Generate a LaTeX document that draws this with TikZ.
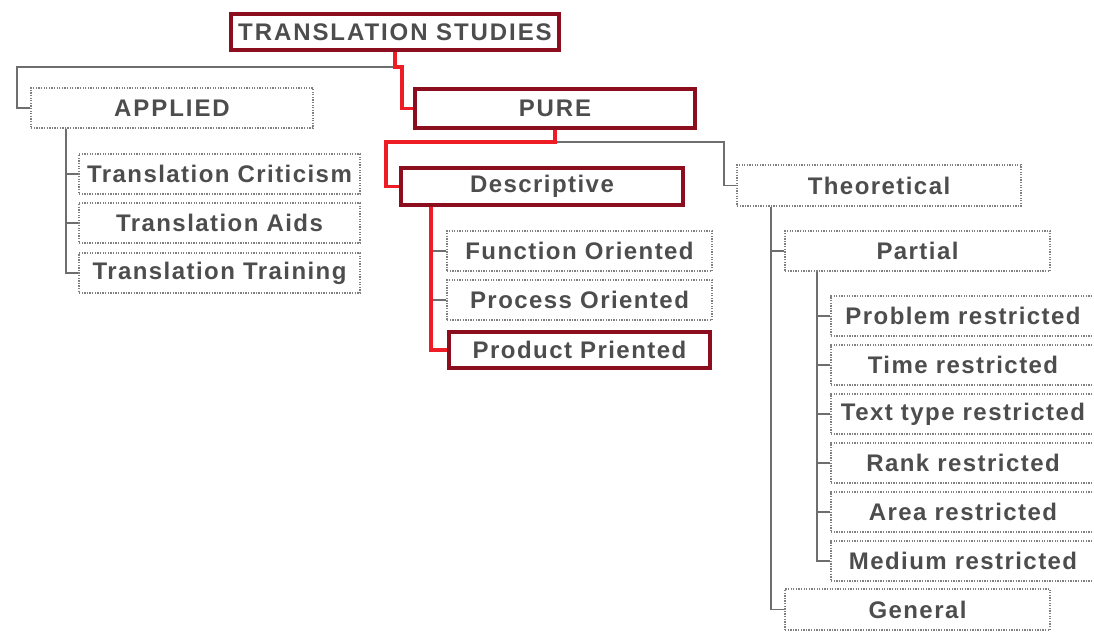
\documentclass[tikz,border=0pt]{standalone}
\usepackage{fontspec}
\usepackage{xcolor}
\newfontfamily\boxfont[LetterSpace=6]{Liberation Sans}
\newfontfamily\capsfont[LetterSpace=8]{Liberation Sans}
\definecolor{darkred}{HTML}{8B0D1E}
\definecolor{redline}{HTML}{EE1C25}
\definecolor{txtgray}{HTML}{4D4D4D}
\definecolor{boxgray}{HTML}{808080}
\definecolor{linegray}{HTML}{6E6E6E}

\begin{document}
\begin{tikzpicture}[x=1pt,y=-1pt,
    box/.style={inner sep=0pt, minimum height=40pt, text=txtgray,
        font=\boxfont\bfseries\fontsize{24}{28}\selectfont},
    capsbox/.style={font=\capsfont\bfseries\fontsize{24}{28}\selectfont},
    gbox/.style={box, draw=boxgray, line width=1.3pt, dash pattern=on 1.3pt off 1.3pt},
    rbox/.style={box, draw=darkred, line width=4pt},
    gline/.style={draw=linegray, line width=1.8pt},
    rline/.style={draw=redline, line width=3.2pt}]
        \useasboundingbox (0,0) rectangle (1094,632);
        \clip (0,0) rectangle (1094,632);

        % root
        \node[rbox, capsbox, minimum width=328pt, minimum height=36pt] (ts) at (395,32) {TRANSLATION STUDIES};

        % first level
        \node[gbox, capsbox, minimum width=282pt] (applied) at (172,108) {APPLIED};
        \node[rbox, capsbox, minimum width=280pt, minimum height=39pt] (pure) at (555,108.5) {PURE};

        % applied branch
        \node[gbox, minimum width=281pt] (criticism) at (219.5,174) {Translation Criticism};
        \node[gbox, minimum width=281pt] (aids) at (219.5,223) {Translation Aids};
        \node[gbox, minimum width=281pt] (training) at (219.5,273) {Translation Training};

        % pure branch
        \node[rbox, minimum width=282pt, minimum height=37pt] (descriptive) at (542,186.5) {Descriptive};
        \node[gbox, minimum width=284pt, minimum height=41pt] (theoretical) at (879,185.5) {Theoretical};

        % descriptive branch
        \node[gbox, minimum width=265pt] (function) at (579.5,251) {Function Oriented};
        \node[gbox, minimum width=265pt] (process) at (579.5,300) {Process Oriented};
        \node[rbox, minimum width=261pt, minimum height=36pt] (product) at (579.5,350) {Product Priented};

        % theoretical branch
        \node[gbox, minimum width=265pt] (partial) at (917.5,251) {Partial};
        \node[gbox, minimum width=265pt, minimum height=41pt] (general) at (917.5,609.5) {General};

        % partial branch
        \node[gbox, minimum width=264pt] (problem) at (963,316) {Problem restricted};
        \node[gbox, minimum width=264pt] (time) at (963,365) {Time restricted};
        \node[gbox, minimum width=264pt] (texttype) at (963,414) {Text type restricted};
        \node[gbox, minimum width=264pt] (rank) at (963,463) {Rank restricted};
        \node[gbox, minimum width=264pt] (area) at (963,512) {Area restricted};
        \node[gbox, minimum width=264pt] (medium) at (963,561) {Medium restricted};

        % grey connectors
        \draw[gline] (ts.south) -- ++(0,15) -| ([xshift=-13pt]applied.west) -- (applied.west);
        \draw[gline] (pure.south) -- ++(0,12) -| ([xshift=-12pt]theoretical.west) -- (theoretical.west);
        \draw[gline] ([xshift=36pt]applied.south west) |- (criticism.west);
        \draw[gline] ([xshift=36pt]applied.south west) |- (aids.west);
        \draw[gline] ([xshift=36pt]applied.south west) |- (training.west);
        \draw[gline] ([xshift=32pt]descriptive.south west) |- (function.west);
        \draw[gline] ([xshift=32pt]descriptive.south west) |- (process.west);
        \draw[gline] ([xshift=35pt]theoretical.south west) |- (partial.west);
        \draw[gline] ([xshift=35pt]theoretical.south west) |- (general.west);
        \draw[gline] ([xshift=33pt]partial.south west) |- (problem.west);
        \draw[gline] ([xshift=33pt]partial.south west) |- (time.west);
        \draw[gline] ([xshift=33pt]partial.south west) |- (texttype.west);
        \draw[gline] ([xshift=33pt]partial.south west) |- (rank.west);
        \draw[gline] ([xshift=33pt]partial.south west) |- (area.west);
        \draw[gline] ([xshift=33pt]partial.south west) |- (medium.west);

        % red path
        \draw[rline] (ts.south) -- ++(0,15) -- ++(7,0) |- (pure.west);
        \draw[rline] (pure.south) -- ++(0,12) -| ([xshift=-13pt]descriptive.west) -- (descriptive.west);
        \draw[rline] ([xshift=32pt]descriptive.south west) |- (product.west);
    \end{tikzpicture}
\end{document}
